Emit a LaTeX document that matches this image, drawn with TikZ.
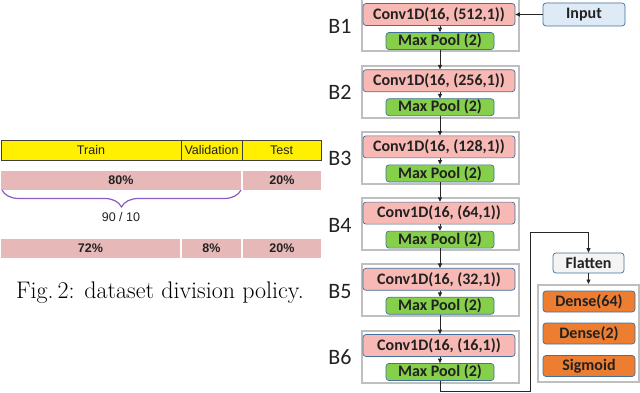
\documentclass[tikz,border=0pt]{standalone}
\usepackage{fontspec}
\newfontfamily\arialf{Liberation Sans}
\newfontfamily\calf{Carlito}
\usetikzlibrary{decorations.pathreplacing,arrows.meta}
\definecolor{ybar}{HTML}{FFEF00}
\definecolor{pbar}{HTML}{E6B8B7}
\definecolor{brc}{HTML}{8A5CC0}
\definecolor{convf}{HTML}{F8B8B4}
\definecolor{poolf}{HTML}{86CF4A}
\definecolor{edgeb}{HTML}{41719C}
\definecolor{densef}{HTML}{ED7D31}
\definecolor{inpf}{HTML}{DEEBF7}
\definecolor{flatf}{HTML}{F4F4F4}
\definecolor{boxg}{HTML}{BFBFBF}
\definecolor{txt}{HTML}{222222}
\tikzset{
  ybox/.style={draw=black!75,line width=0.8pt,fill=ybar,inner sep=0pt,minimum height=20pt,text=txt,font=\arialf\fontsize{12.5}{14}\selectfont},
  pbox/.style={fill=pbar,inner sep=0pt,minimum height=19pt,text=txt,font=\arialf\bfseries\fontsize{12.5}{14}\selectfont},
  blockbox/.style={draw=boxg,line width=2pt,fill=white,minimum width=157pt,minimum height=52pt,inner sep=0pt},
  layer/.style={draw=edgeb,line width=0.7pt,rounded corners=3pt,inner sep=0pt,text=txt,font=\calf\bfseries\fontsize{16}{18}\selectfont},
  conv/.style={layer,fill=convf,minimum width=152pt,minimum height=22pt},
  pool/.style={layer,fill=poolf,minimum width=108pt,minimum height=17pt},
  dense/.style={layer,fill=densef,minimum width=92pt,minimum height=21pt},
  blabel/.style={text=txt,font=\calf\fontsize{22}{26}\selectfont},
  arr/.style={-{Triangle[length=4.5pt,width=4pt]},line width=0.8pt,black!85},
}
\begin{document}
\begin{tikzpicture}[x=1pt,y=-1pt]
\useasboundingbox (0,0) rectangle (640,393);
% ---- left: dataset division ----
\node[ybox,minimum width=180pt] (tr) at (91,150) {Train};
\node[ybox,minimum width=61pt] (va) at (211.5,150) {Validation};
\node[ybox,minimum width=79pt] (te) at (281.5,150) {Test};
\node[pbox,minimum width=240pt] (p80) at (121,180.5) {80\%};
\node[pbox,minimum width=78pt] (p20a) at (282,180.5) {20\%};
\draw[brc,line width=1.2pt,decorate,decoration={brace,amplitude=17pt}] (241,190) -- (2,190);
\node[text=txt,font=\arialf\fontsize{12.5}{14}\selectfont] (ratio) at (121,217) {90 / 10};
\node[pbox,minimum width=179pt] (p72) at (90.5,248.5) {72\%};
\node[pbox,minimum width=59pt] (p8) at (211.5,248.5) {8\%};
\node[pbox,minimum width=78pt] (p20b) at (282,248.5) {20\%};
\node[anchor=base,font=\fontsize{24}{28}\selectfont] (cap) at (160,298) {Fig.\,2: dataset division policy.};
% ---- right: network ----
\foreach \i/\k in {1/512,2/256,3/128,4/64,5/32,6/16} {
  \pgfmathsetmacro\t{66.2*(\i-1)-0.5}
  \node[blockbox] (blk\i) at (440.5,\t+26) {};
  \node[conv] (cv\i) at (439,\t+15) {Conv1D(16, (\k,1))};
  \node[pool] (mp\i) at (440,\t+41.5) {Max Pool (2)};
  \node[blabel] (lb\i) at (340,\t+27) {B\i};
  \draw[arr] (cv\i.south -| mp\i.north) -- (mp\i.north);
}
\foreach \i [evaluate=\i as \j using int(\i+1)] in {1,...,5}
  \draw[arr] (mp\i.south) -- (cv\j.north -| mp\i.south);
\node[layer,fill=inpf,minimum width=82pt,minimum height=23pt] (inp) at (584,14.5) {Input};
\draw[arr] (inp.west) -- (cv1.east);
\node[layer,fill=flatf,minimum width=71pt,minimum height=20pt] (flat) at (588.5,263) {Flatten};
\node[draw=boxg,line width=2pt,minimum width=101pt,minimum height=97pt,inner sep=0pt] (dbox) at (588.5,333.5) {};
\node[dense] (d64) at (589,301.5) {Dense(64)};
\node[dense] (d2) at (589,333.5) {Dense(2)};
\node[dense] (sig) at (589,366) {Sigmoid};
\coordinate (t1) at (530,391);
\coordinate (t2) at (530,232);
\draw[arr] (mp6.south) |- (t1) -- (t2) -| (flat.north);
\draw[arr] (flat.south) -- (dbox.north);
\end{tikzpicture}
\end{document}
